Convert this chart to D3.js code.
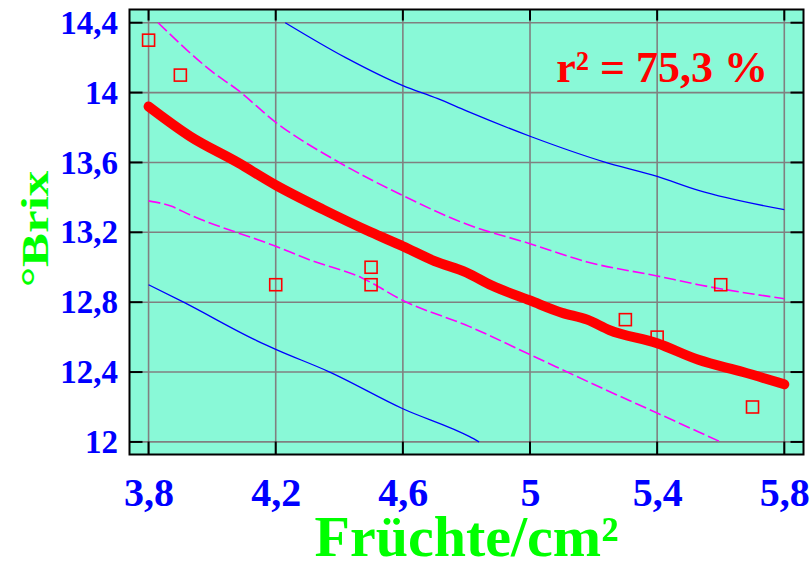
<!DOCTYPE html>
<html>
<head>
<meta charset="utf-8">
<script src="https://cdn.jsdelivr.net/npm/d3@7/dist/d3.min.js"></script>
<style>
  html, body { margin: 0; padding: 0; background: #ffffff; }
  svg { display: block; }
  text { font-family: "Liberation Serif", "Times New Roman", serif; font-weight: bold; }
</style>
</head>
<body>
<svg id="chart" width="812" height="566"></svg>
<script>
// ---- data ----
const xTicks = [3.8, 4.2, 4.6, 5.0, 5.4, 5.8];
const yTicks = [12.0, 12.4, 12.8, 13.2, 13.6, 14.0, 14.4];

const ptX = [3.8, 3.9, 4.2, 4.5, 4.5, 5.3, 5.4, 5.6, 5.7];
const ptY = [14.3, 14.1, 12.9, 13.0, 12.9, 12.7, 12.6, 12.9, 12.2];

const fitX = [3.8, 3.93, 4.08, 4.2, 4.35, 4.5, 4.6, 4.7, 4.8, 4.88, 5.0, 5.1, 5.18, 5.25, 5.4, 5.53, 5.67, 5.8];
const fitY = [13.92, 13.75, 13.60, 13.47, 13.33, 13.20, 13.12, 13.035, 12.97, 12.895, 12.81, 12.74, 12.70, 12.64, 12.565, 12.47, 12.40, 12.33];

const confUpX = [3.83, 4.0, 4.08, 4.2, 4.4, 4.6, 4.81, 5.0, 5.18, 5.4, 5.53, 5.8];
const confUpY = [14.40, 14.12, 14.015, 13.83, 13.60, 13.41, 13.24, 13.135, 13.03, 12.95, 12.90, 12.82];

const confLoX = [3.8, 3.87, 3.93, 4.2, 4.31, 4.47, 4.6, 4.81, 5.0, 5.2, 5.4, 5.6];
const confLoY = [13.38, 13.35, 13.30, 13.12, 13.04, 12.94, 12.81, 12.66, 12.50, 12.33, 12.165, 12.0];

const predUpX = [4.23, 4.42, 4.6, 4.71, 4.8, 5.0, 5.23, 5.4, 5.53, 5.8];
const predUpY = [14.40, 14.20, 14.04, 13.965, 13.895, 13.75, 13.605, 13.52, 13.44, 13.33];

const predLoX = [3.8, 3.91, 4.14, 4.2, 4.37, 4.6, 4.81, 4.84];
const predLoY = [12.90, 12.80, 12.58, 12.53, 12.40, 12.19, 12.03, 12.0];

const r2Label = "r\u00B2 = 75,3 %";
const xTitle = "Fr\u00FCchte/cm\u00B2";
const yTitle = "\u00B0Brix";

// ---- layout ----
const L = 129.5, R = 803.5, T = 9.5, B = 454.5;
const svg = d3.select("#chart");
const x = d3.scaleLinear().domain([3.74, 5.8604]).range([L, R]);
const y = d3.scaleLinear().domain([11.928, 14.4756]).range([B, T]);
const fmt = d => String(+d.toFixed(1)).replace(".", ",");

svg.append("defs").append("clipPath").attr("id", "plotclip")
  .append("rect").attr("x", L).attr("y", T).attr("width", R - L).attr("height", B - T);

svg.append("rect").attr("x", L).attr("y", T).attr("width", R - L).attr("height", B - T)
  .attr("fill", "#89F9D7");

// grid
const grid = svg.append("g").attr("stroke", "#808080").attr("stroke-width", 1.6);
grid.selectAll("line.gx").data(xTicks).join("line")
  .attr("x1", d => x(d)).attr("x2", d => x(d)).attr("y1", T).attr("y2", B);
grid.selectAll("line.gy").data(yTicks).join("line")
  .attr("y1", d => y(d)).attr("y2", d => y(d)).attr("x1", L).attr("x2", R);

const plot = svg.append("g").attr("clip-path", "url(#plotclip)");
const zip = (a, b) => a.map((v, i) => [v, b[i]]);
const line = d3.line().x(d => x(d[0])).y(d => y(d[1])).curve(d3.curveMonotoneX);

plot.append("path").datum(zip(predUpX, predUpY)).attr("d", line)
  .attr("fill", "none").attr("stroke", "#0000FF").attr("stroke-width", 1.3);
plot.append("path").datum(zip(predLoX, predLoY)).attr("d", line)
  .attr("fill", "none").attr("stroke", "#0000FF").attr("stroke-width", 1.3);
plot.append("path").datum(zip(confUpX, confUpY)).attr("d", line)
  .attr("fill", "none").attr("stroke", "#FF00FF").attr("stroke-width", 1.6)
  .attr("stroke-dasharray", "12,4");
plot.append("path").datum(zip(confLoX, confLoY)).attr("d", line)
  .attr("fill", "none").attr("stroke", "#FF00FF").attr("stroke-width", 1.6)
  .attr("stroke-dasharray", "12,4");
plot.append("path").datum(zip(fitX, fitY)).attr("d", line)
  .attr("fill", "none").attr("stroke", "#FF0000").attr("stroke-width", 10)
  .attr("stroke-linecap", "round").attr("stroke-linejoin", "round");

// points
const s = 12;
plot.selectAll("rect.pt").data(zip(ptX, ptY)).join("rect")
  .attr("x", d => x(d[0]) - s / 2).attr("y", d => y(d[1]) - s / 2)
  .attr("width", s).attr("height", s)
  .attr("fill", "none").attr("stroke", "#FF0000").attr("stroke-width", 1.6);

// frame
svg.append("rect").attr("x", L).attr("y", T).attr("width", R - L).attr("height", B - T)
  .attr("fill", "none").attr("stroke", "#000000").attr("stroke-width", 2);

// inner ticks on all sides
const tk = svg.append("g").attr("stroke", "#000000").attr("stroke-width", 2);
const tl = 13;
tk.selectAll("line.b").data(xTicks).join("line")
  .attr("x1", d => x(d)).attr("x2", d => x(d)).attr("y1", B).attr("y2", B - tl);
tk.selectAll("line.t").data(xTicks).join("line")
  .attr("x1", d => x(d)).attr("x2", d => x(d)).attr("y1", T).attr("y2", T + 11);
tk.selectAll("line.l").data(yTicks).join("line")
  .attr("y1", d => y(d)).attr("y2", d => y(d)).attr("x1", L).attr("x2", L + tl);
tk.selectAll("line.r").data(yTicks).join("line")
  .attr("y1", d => y(d)).attr("y2", d => y(d)).attr("x1", R).attr("x2", R - tl);

// axes labels via d3 axes
const xAxis = svg.append("g").attr("transform", `translate(0,${B})`)
  .call(d3.axisBottom(x).tickValues(xTicks).tickFormat(fmt).tickSize(0).tickPadding(23.5));
const yAxis = svg.append("g").attr("transform", `translate(${L},0)`)
  .call(d3.axisLeft(y).tickValues(yTicks).tickFormat(fmt).tickSize(0).tickPadding(11.5));
[xAxis, yAxis].forEach(g => {
  g.select(".domain").remove();
  g.attr("font-family", null).attr("font-size", null);
  g.selectAll("text").attr("fill", "#0000FF")
    .style("font-family", "'Liberation Serif', 'Times New Roman', serif").style("font-weight", "bold");
});
xAxis.selectAll("text").style("font-size", "40px");
yAxis.selectAll("text").style("font-size", "33px");

// titles
svg.append("text").attr("x", (L + R) / 2).attr("y", 556)
  .attr("text-anchor", "middle").attr("fill", "#00FF00").style("font-size", "58px")
  .text(xTitle);

svg.append("text").attr("transform", "translate(48,229) rotate(-90) scale(1,0.76)")
  .attr("text-anchor", "middle").attr("fill", "#00FF00").style("font-size", "51px")
  .text(yTitle);

svg.append("text").attr("x", 768).attr("y", 81.5)
  .attr("text-anchor", "end").attr("fill", "#FF0000").style("font-size", "44px")
  .text(r2Label);
</script>
</body>
</html>
